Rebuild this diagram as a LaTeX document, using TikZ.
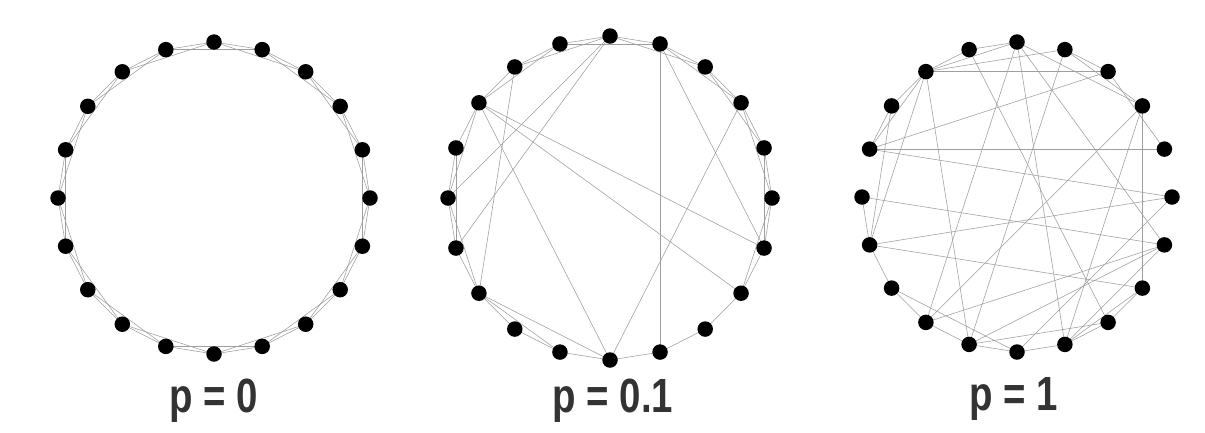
\documentclass[tikz,border=0pt]{standalone}
\usepackage{fontspec}
\newfontfamily\labfont[FakeStretch=0.8]{Liberation Sans}
\pgfdeclarelayer{bg}
\pgfsetlayers{bg,main}
\begin{document}
\begin{tikzpicture}[x=1pt,y=1pt,
  dot/.style={circle,fill=black,draw=none,inner sep=0pt,minimum size=15.5pt},
  link/.style={draw=black!38,line width=0.55pt},
  plabel/.style={font=\labfont\bfseries\fontsize{48}{52}\selectfont,text=black!80}]
\useasboundingbox (0,0) rectangle (1205,-432);
% nodes
\foreach \i in {0,...,19}{
  \node[dot] (a\i) at ({214+156*cos(90-18*\i)},{-198+156*sin(90-18*\i)}) {};
  \node[dot] (b\i) at ({610+162*cos(90-18*\i)},{-198+162*sin(90-18*\i)}) {};
  \node[dot] (c\i) at ({1017+155*cos(90-18*\i)},{-197+155*sin(90-18*\i)}) {};
}
\begin{pgfonlayer}{bg}
\fill[white] (0,0) rectangle (1205,-432);
% p = 0 : ring lattice
\foreach \i in {0,...,19}{
  \pgfmathtruncatemacro{\j}{mod(\i+1,20)}
  \pgfmathtruncatemacro{\k}{mod(\i+2,20)}
  \draw[link] (a\i.center) -- (a\j.center);
  \draw[link] (a\i.center) -- (a\k.center);
  \draw[link] (b\i.center) -- (b\j.center);
}
% p = 0.1
\foreach \u/\v in {0/2,1/3,2/4,3/5,4/6,5/7,11/13,13/15,14/16,15/17,17/19,18/0,19/1,
  3/10,1/6,1/9,17/6,17/7,17/10,18/13,13/10,0/14,0/15}
  \draw[link] (b\u.center) -- (b\v.center);
% p = 1
\foreach \u/\v in {18/2,16/4,3/7,18/19,18/0,18/1,18/17,18/16,18/14,18/11,19/8,19/0,
  0/3,0/6,0/12,1/2,1/3,1/11,2/16,2/4,3/12,3/9,16/5,16/17,15/14,15/6,14/13,14/5,
  14/7,14/17,13/12,13/10,12/6,12/11,11/10,11/6,11/8,10/9,10/5,9/8,9/7,9/6,8/7,0/9}
  \draw[link] (c\u.center) -- (c\v.center);
\end{pgfonlayer}
% labels
\node[plabel] (l1) at (214,-401) {p = 0};
\node[plabel] (l2) at (613,-401) {p = 0.1};
\node[plabel] (l3) at (1014,-399) {p = 1};
\end{tikzpicture}
\end{document}
